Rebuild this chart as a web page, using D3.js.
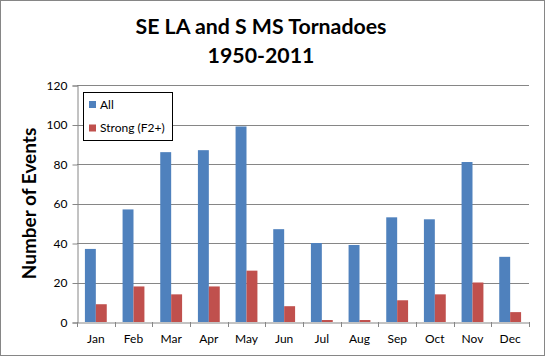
<!DOCTYPE html>
<html>
<head>
<meta charset="utf-8">
<script src="https://cdn.jsdelivr.net/npm/d3@7/dist/d3.min.js"></script>
<style>
  html, body { margin: 0; padding: 0; background: #fff; }
  svg { display: block; }
  text { font-family: Lato, "Open Sans", sans-serif; }
</style>
</head>
<body>
<svg id="chart" width="545" height="357"></svg>
<script>
const months = ["Jan","Feb","Mar","Apr","May","Jun","Jul","Aug","Sep","Oct","Nov","Dec"];
const allEvents = [37, 57, 86, 87, 99, 47, 40, 39, 53, 52, 81, 33];
const strongEvents = [9, 18, 14, 18, 26, 8, 1, 1, 11, 14, 20, 5];
const seriesNames = ["All", "Strong (F2+)"];
const yTicks = [0, 20, 40, 60, 80, 100, 120];
const titleLines = ["SE LA and S MS Tornadoes", "1950-2011"];
const yLabel = "Number of Events";

(function () {
const colors = ["#4F81BD", "#C0504D"];
const svg = d3.select("#chart");
const W = 545, H = 357;
const pL = 77, pR = 529, pT = 85, pB = 322;

svg.append("rect").attr("x", 0.5).attr("y", 0.5).attr("width", W - 1).attr("height", H - 2)
  .attr("fill", "#fff").attr("stroke", "#868686").attr("stroke-width", 1);

const x = d3.scaleBand().domain(months).range([pL, pR]).paddingInner(0.42).paddingOuter(0.21);
const xs = d3.scaleBand().domain([0, 1]).range([0, x.bandwidth()]);
const y = d3.scaleLinear().domain([0, 120]).range([pB, pT]);

svg.append("g").selectAll("line").data(yTicks.filter(d => d > 0)).join("line")
  .attr("x1", pL).attr("x2", pR)
  .attr("y1", d => Math.round(y(d)) + 0.5).attr("y2", d => Math.round(y(d)) + 0.5)
  .attr("stroke", "#868686").attr("stroke-width", 1);

const data = months.map((m, i) => ({ m, v: [allEvents[i], strongEvents[i]] }));
const g = svg.append("g").selectAll("g").data(data).join("g")
  .attr("transform", d => `translate(${x(d.m)},0)`);
g.selectAll("rect").data(d => d.v.map((v, k) => ({ v, k }))).join("rect")
  .attr("x", d => xs(d.k)).attr("width", xs.bandwidth())
  .attr("y", d => y(d.v)).attr("height", d => y(0) - y(d.v))
  .attr("fill", d => colors[d.k]);

const yAxis = svg.append("g").attr("transform", `translate(${pL + 0.5},0.5)`)
  .call(d3.axisLeft(y).tickValues(yTicks).tickSize(5).tickPadding(5));
yAxis.select(".domain").attr("stroke", "#868686");
yAxis.selectAll(".tick line").attr("stroke", "#868686");
yAxis.selectAll("text").attr("font-size", 12).attr("fill", "#000").style("font-family", "Lato, sans-serif");

const xAxis = svg.append("g").attr("transform", `translate(0,${pB + 0.5})`)
  .call(d3.axisBottom(x).tickSize(0).tickPadding(12));
xAxis.select(".domain").attr("stroke", "#868686");
xAxis.selectAll("text").attr("font-size", 12).attr("fill", "#000").style("font-family", "Lato, sans-serif");
const bounds = d3.range(months.length + 1).map(i => pL + i * (pR - pL) / months.length);
svg.append("g").selectAll("line").data(bounds).join("line")
  .attr("x1", d => Math.round(d) + 0.5).attr("x2", d => Math.round(d) + 0.5)
  .attr("y1", pB).attr("y2", pB + 5)
  .attr("stroke", "#868686");

svg.append("g").selectAll("text").data(titleLines).join("text")
  .attr("x", 261).attr("y", (d, i) => 34 + i * 29)
  .attr("text-anchor", "middle").attr("font-size", 21.3).attr("font-weight", "bold")
  .text(d => d);

svg.append("text").attr("transform", `translate(36,203.5) rotate(-90)`)
  .attr("text-anchor", "middle").attr("font-size", 19).attr("font-weight", "bold")
  .text(yLabel);

const lg = svg.append("g");
lg.append("rect").attr("x", 83.5).attr("y", 92.5).attr("width", 89).attr("height", 48)
  .attr("fill", "#fff").attr("stroke", "#000");
seriesNames.forEach((n, i) => {
  lg.append("rect").attr("x", 89).attr("y", 101 + i * 23.5).attr("width", 7).attr("height", 7).attr("fill", colors[i]);
  lg.append("text").attr("x", 100).attr("y", 108.5 + i * 23.5).attr("font-size", 12).text(n);
});
})();
</script>
</body>
</html>
